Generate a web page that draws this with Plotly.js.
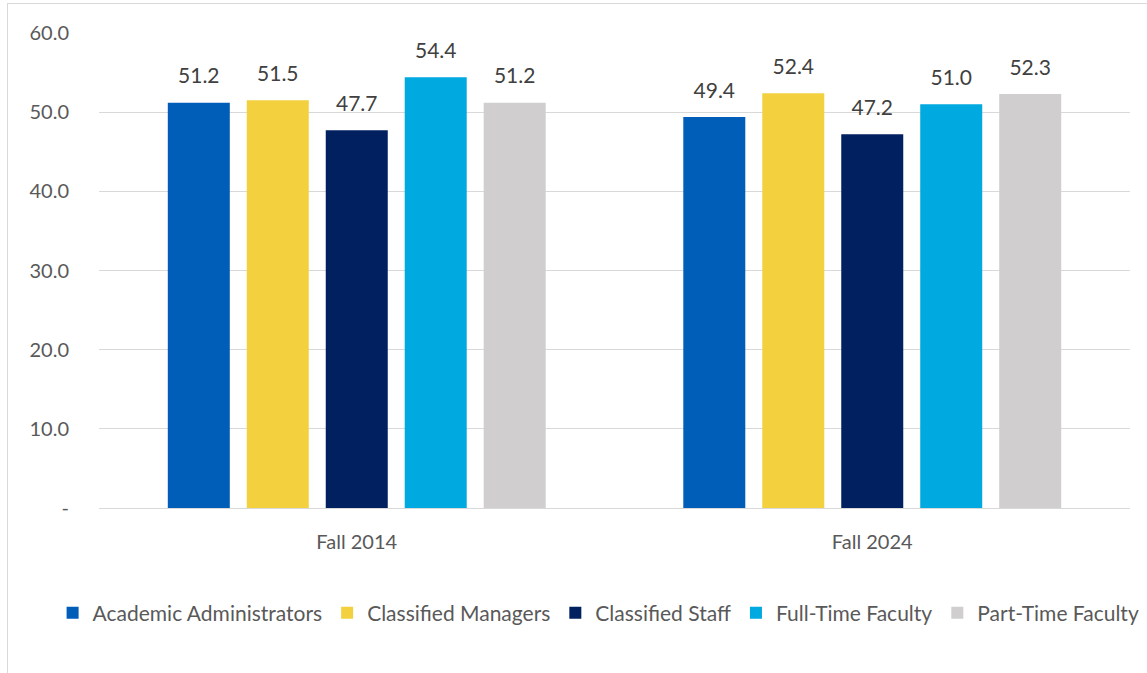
<!DOCTYPE html>
<html>
<head>
<meta charset="utf-8">
<script src="https://cdn.plot.ly/plotly-3.0.1.min.js"></script>
<style>
  html, body { margin: 0; padding: 0; background: #ffffff; }
  #wrap { position: relative; width: 1147px; height: 673px; overflow: hidden; }
  #frame { position: absolute; left: 7px; top: 3px; width: 1200px; height: 700px;
           border-left: 1px solid #d9d9d9; border-top: 1px solid #d9d9d9; pointer-events: none; }
  #chart { position: absolute; left: 0; top: 0; width: 1147px; height: 673px; }
</style>
</head>
<body>
<div id="wrap">
  <div id="chart"></div>
  <div id="frame"></div>
</div>
<script>
const categories = ["Fall 2014", "Fall 2024"];
const seriesNames = ["Academic Administrators", "Classified Managers", "Classified Staff", "Full-Time Faculty", "Part-Time Faculty"];
const academicAdministrators = [51.2, 49.4];
const classifiedManagers = [51.5, 52.4];
const classifiedStaff = [47.7, 47.2];
const fullTimeFaculty = [54.4, 51.0];
const partTimeFaculty = [51.2, 52.3];
const tickValues = [0, 10, 20, 30, 40, 50, 60];
const tickLabels = ["-", "10.0", "20.0", "30.0", "40.0", "50.0", "60.0"];

const seriesValues = [academicAdministrators, classifiedManagers, classifiedStaff, fullTimeFaculty, partTimeFaculty];
const colors = ["#005EB8", "#F2D03E", "#002060", "#00A9E0", "#D0CECE"];
const FONT = "Lato, 'Open Sans', sans-serif";

const barTraces = seriesNames.map((name, i) => ({
  type: "bar",
  name: name,
  x: categories,
  y: seriesValues[i],
  offsetgroup: String(i),
  marker: { color: colors[i] },
  hoverinfo: "x+y+name"
}));

const labelTraces = seriesNames.map((name, i) => ({
  type: "scatter",
  mode: "markers+text",
  x: categories,
  y: seriesValues[i],
  offsetgroup: String(i),
  showlegend: false,
  marker: { size: 21, opacity: 0 },
  text: seriesValues[i].map(v => v.toFixed(1)),
  textposition: "top center",
  textfont: { family: FONT, size: 21, color: "#404040" },
  cliponaxis: false,
  hoverinfo: "skip"
}));

const layout = {
  width: 1147,
  height: 673,
  margin: { l: 99, r: 17, t: 33, b: 165 },
  paper_bgcolor: "rgba(0,0,0,0)",
  plot_bgcolor: "rgba(0,0,0,0)",
  font: { family: FONT, color: "#595959" },
  barmode: "group",
  scattermode: "group",
  bargap: 0.234,
  bargroupgap: 0.215,
  showlegend: true,
  legend: {
    orientation: "h",
    x: -0.045, xanchor: "left",
    y: -0.221, yanchor: "middle",
    font: { family: FONT, size: 21, color: "#595959" },
    itemwidth: 30,
    tracegroupgap: 0
  },
  xaxis: {
    type: "category",
    showgrid: false,
    zeroline: false,
    showline: false,
    ticks: "",
    tickfont: { family: FONT, size: 20, color: "#595959" },
    ticklabelstandoff: 20
  },
  yaxis: {
    range: [0, 60],
    tickmode: "array",
    tickvals: tickValues,
    ticktext: tickLabels,
    showgrid: true,
    gridcolor: "#D9D9D9",
    gridwidth: 1,
    zeroline: true,
    zerolinecolor: "#D9D9D9",
    zerolinewidth: 1,
    showline: false,
    ticks: "",
    tickfont: { family: FONT, size: 20, color: "#595959" },
    ticklabelstandoff: 29
  }
};

Plotly.newPlot("chart", barTraces.concat(labelTraces), layout, { displayModeBar: false, staticPlot: true });
</script>
</body>
</html>
